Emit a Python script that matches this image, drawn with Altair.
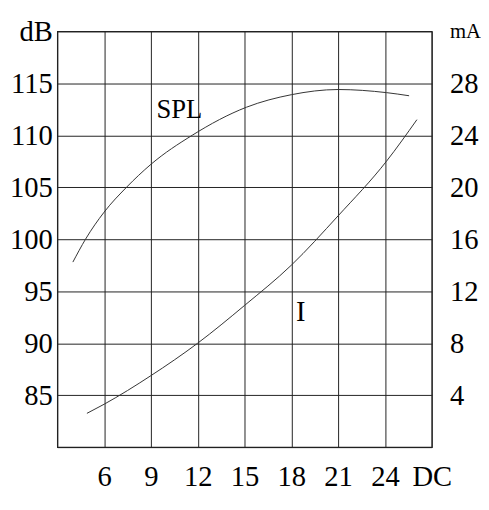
import altair as alt
import pandas as pd

# SPL curve (left axis, dB)
spl_x = [4.0, 4.81, 6, 7.44, 9, 11.65, 15.13, 18, 21, 24.1, 25.55]
spl_db = [97.8, 100, 102.6, 105, 107.2, 110, 112.7, 113.9, 114.4, 114.1, 113.8]

# Current curve (right axis, mA)
i_x = [4.9, 6, 9, 12, 15, 18, 21, 24.1, 26.05]
i_ma = [2.6, 3.3, 5.5, 8.0, 10.9, 14.0, 17.8, 22.0, 25.2]

x_ticks = [3, 6, 9, 12, 15, 18, 21, 24, 27]
db_ticks = [80, 85, 90, 95, 100, 105, 110, 115, 120]
ma_ticks = [0, 4, 8, 12, 16, 20, 24, 28, 32]

spl_label = {"x": [10.83], "y": [112.4], "t": ["SPL"]}
i_label = {"x": [18.6], "y": [10.4], "t": ["I"]}

FONT = "Liberation Serif"
FS = 29

spl_df = pd.DataFrame({"x": spl_x, "v": spl_db})
i_df = pd.DataFrame({"x": i_x, "v": i_ma})

xs = alt.Scale(domain=[3, 27], nice=False, zero=False)
xaxis = alt.Axis(values=x_ticks, grid=True, gridColor="#222", gridOpacity=1, gridWidth=1,
                 ticks=False, domain=False, labelFlush=False, labelOverlap=False,
                 labelExpr="datum.value == 27 ? 'DC' : (datum.value == 3 ? '' : datum.label)",
                 labelFont=FONT, labelFontSize=FS, labelColor="black", labelPadding=16,
                 title=None)

left = alt.Axis(values=db_ticks, grid=True, gridColor="#222", gridOpacity=1, gridWidth=1,
                ticks=False, domain=False, labelOverlap=False, labelFlush=False,
                labelExpr="datum.value == 120 ? 'dB' : (datum.value == 80 ? '' : datum.label)",
                labelFont=FONT, labelFontSize=FS, labelColor="black", labelPadding=5,
                title=None)

right = alt.Axis(values=ma_ticks, orient="right", grid=False, ticks=False, domain=False,
                 labelOverlap=False, labelFlush=False, labelAlign="left",
                 labelExpr="datum.value == 32 ? 'mA' : (datum.value == 0 ? '' : datum.label)",
                 labelFont=FONT,
                 labelFontSize={"condition": {"test": "datum.value == 32", "value": 21}, "value": FS},
                 labelColor="black", labelPadding=18, title=None)

spl_line = alt.Chart(spl_df).mark_line(color="#333", strokeWidth=1, interpolate="monotone").encode(
    x=alt.X("x:Q", scale=xs, axis=xaxis),
    y=alt.Y("v:Q", scale=alt.Scale(domain=[80, 120], nice=False, zero=False), axis=left),
)
spl_text = alt.Chart(pd.DataFrame(spl_label)).mark_text(font=FONT, fontSize=27, color="black").encode(
    x=alt.X("x:Q", scale=xs),
    y=alt.Y("y:Q", scale=alt.Scale(domain=[80, 120], nice=False, zero=False)),
    text="t:N",
)
i_line = alt.Chart(i_df).mark_line(color="#333", strokeWidth=1, interpolate="monotone").encode(
    x=alt.X("x:Q", scale=xs),
    y=alt.Y("v:Q", scale=alt.Scale(domain=[0, 32], nice=False, zero=False), axis=right),
)
i_text = alt.Chart(pd.DataFrame(i_label)).mark_text(font=FONT, fontSize=FS, color="black").encode(
    x=alt.X("x:Q", scale=xs),
    y=alt.Y("y:Q", scale=alt.Scale(domain=[0, 32], nice=False, zero=False)),
    text="t:N",
)

left_layer = alt.layer(spl_line, spl_text)
right_layer = alt.layer(i_line, i_text)

chart = alt.layer(left_layer, right_layer).resolve_scale(y="independent").properties(
    width=380, height=422, autosize="none",
    padding={"left": 50, "top": 20, "right": 50, "bottom": 50},
    background="white",
).configure_view(stroke="#222", strokeWidth=1.2)

chart.save("out.html", embed_options={"renderer": "svg", "actions": False})
